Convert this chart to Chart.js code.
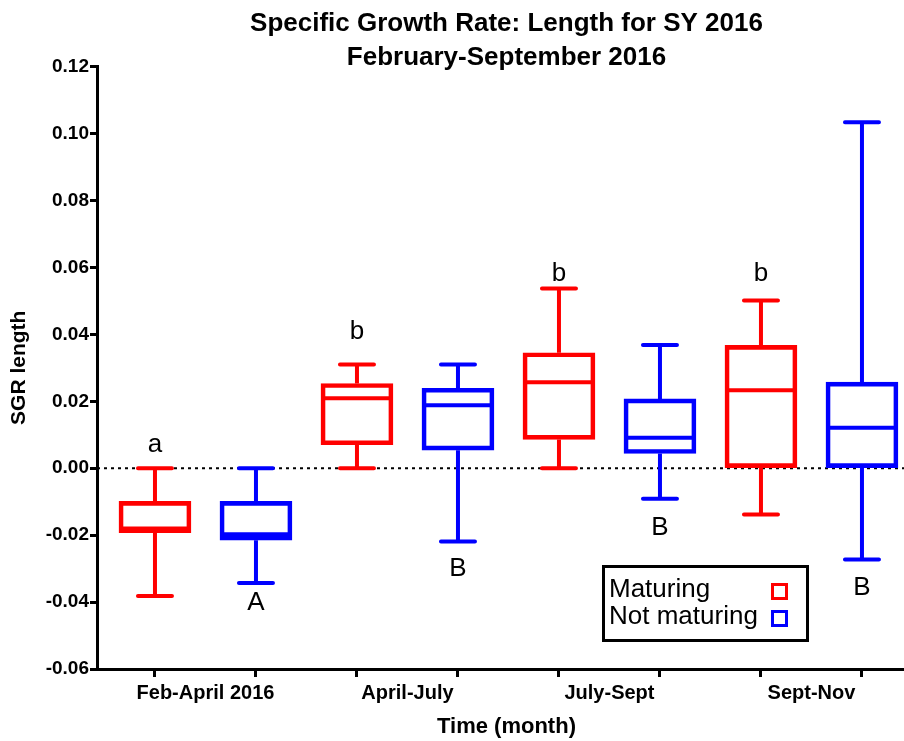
<!DOCTYPE html>
<html>
<head>
<meta charset="utf-8">
<title>SGR length</title>
<script src="https://cdn.jsdelivr.net/npm/chart.js@4"></script>
<style>
  html, body { margin: 0; padding: 0; background: #fff; overflow: hidden; }
  /* the original figure is cropped on the right, so the canvas runs a bit past the window */
  #sgrChart { display: block; }
</style>
</head>
<body>
<canvas id="sgrChart" width="916" height="741"></canvas>
<script>
// data
const periods = ['Feb-April 2016', 'April-July', 'July-Sept', 'Sept-Nov'];
const seriesNames = ['Maturing', 'Not maturing'];

const maturingMin    = [-0.0382, 0.0000, 0.0000, -0.0138];
const maturingQ1     = [-0.0193, 0.0070, 0.0086, 0.0000];
const maturingMedian = [-0.0180, 0.0209, 0.0257, 0.0233];
const maturingQ3     = [-0.0099, 0.0253, 0.0345, 0.0367];
const maturingMax    = [0.0000, 0.0310, 0.0537, 0.0501];

const notMaturingMin    = [-0.0343, -0.0219, -0.0091, -0.0273];
const notMaturingQ1     = [-0.0215, 0.0054, 0.0044, 0.0000];
const notMaturingMedian = [-0.0197, 0.0188, 0.0091, 0.0121];
const notMaturingQ3     = [-0.0099, 0.0239, 0.0207, 0.0257];
const notMaturingMax    = [0.0000, 0.0310, 0.0368, 0.1034];

// significance letters and the value they sit at
const maturingLetters = ['a', 'b', 'b', 'b'];
const maturingLetterAt = [0.0069, 0.0406, 0.0582, 0.0582];
const notMaturingLetters = ['A', 'B', 'B', 'B'];
const notMaturingLetterAt = [-0.0403, -0.0301, -0.0179, -0.0358];

const yTicks = [-0.06, -0.04, -0.02, 0.00, 0.02, 0.04, 0.06, 0.08, 0.10, 0.12];

const FONT = '"Liberation Sans", Arial, sans-serif';
const RED = '#ff0000';
const BLUE = '#0000ff';

// each box gets its own slot on the x axis: red at even, blue at odd
const boxSlots = [];
periods.forEach((p, i) => { boxSlots.push(2 * i, 2 * i + 1); });
const labelSlots = periods.map((p, i) => 2 * i + 0.5);

function makeDataset(name, color, offset, mins, q1s, meds, q3s, maxs, letters, letterAt) {
    return {
        label: name,
        data: periods.map((p, i) => ({ x: 2 * i + offset, y: [q1s[i], q3s[i]] })),
        stats: periods.map((p, i) => ({ min: mins[i], med: meds[i], max: maxs[i], letter: letters[i], letterAt: letterAt[i] })),
        borderColor: color,
        backgroundColor: 'rgba(0,0,0,0)',
        borderWidth: 4,
        borderSkipped: false,
        barThickness: 72,
        grouped: false
    };
}

const boxWhiskerPlugin = {
    id: 'boxWhisker',
    beforeDatasetsDraw(chart) {
        const { ctx, chartArea, scales } = chart;
        const y0 = scales.y.getPixelForValue(0);
        ctx.save();
        ctx.strokeStyle = '#000';
        ctx.lineWidth = 2;
        ctx.setLineDash([3, 4]);
        ctx.beginPath();
        ctx.moveTo(chartArea.left, y0);
        ctx.lineTo(chartArea.right, y0);
        ctx.stroke();
        ctx.restore();
    },
    afterDatasetsDraw(chart) {
        const { ctx, scales } = chart;
        const ys = scales.y;
        chart.data.datasets.forEach((ds, di) => {
            const meta = chart.getDatasetMeta(di);
            meta.data.forEach((bar, i) => {
                const st = ds.stats[i];
                const cx = bar.x;
                const half = bar.width / 2;
                const top = Math.min(bar.y, bar.base);
                const bottom = Math.max(bar.y, bar.base);
                const yMax = ys.getPixelForValue(st.max);
                const yMin = ys.getPixelForValue(st.min);
                const yMed = ys.getPixelForValue(st.med);
                ctx.save();
                ctx.strokeStyle = ds.borderColor;
                ctx.lineWidth = 4;
                // median
                ctx.beginPath();
                ctx.moveTo(cx - half + 2, yMed);
                ctx.lineTo(cx + half - 2, yMed);
                ctx.stroke();
                // whiskers
                ctx.beginPath();
                if (yMax < top) { ctx.moveTo(cx, top); ctx.lineTo(cx, yMax); }
                if (yMin > bottom) { ctx.moveTo(cx, bottom); ctx.lineTo(cx, yMin); }
                ctx.stroke();
                // caps
                ctx.lineCap = 'round';
                ctx.beginPath();
                ctx.moveTo(cx - 17, yMax); ctx.lineTo(cx + 17, yMax);
                ctx.moveTo(cx - 17, yMin); ctx.lineTo(cx + 17, yMin);
                ctx.stroke();
                // letter
                ctx.fillStyle = '#000';
                ctx.font = '26px ' + FONT;
                ctx.textAlign = 'center';
                ctx.textBaseline = 'middle';
                ctx.fillText(st.letter, cx, ys.getPixelForValue(st.letterAt));
                ctx.restore();
            });
        });
    },
    afterDraw(chart) {
        // legend box, markers on the right like the original
        const ctx = chart.ctx;
        const colors = [RED, BLUE];
        ctx.save();
        ctx.fillStyle = '#fff';
        ctx.fillRect(603, 566, 205, 75);
        ctx.strokeStyle = '#000';
        ctx.lineWidth = 3;
        ctx.strokeRect(603.5, 566.5, 204, 74);
        ctx.font = '26px ' + FONT;
        ctx.textBaseline = 'alphabetic';
        ctx.textAlign = 'left';
        seriesNames.forEach((name, i) => {
            ctx.fillStyle = '#000';
            ctx.fillText(name, 609, 597 + i * 27);
            ctx.strokeStyle = colors[i];
            ctx.strokeRect(772.5, 584.5 + i * 27, 14, 14);
        });
        ctx.restore();
    }
};

const ctx = document.getElementById('sgrChart').getContext('2d');
new Chart(ctx, {
    type: 'bar',
    data: {
        datasets: [
            makeDataset(seriesNames[0], RED, 0, maturingMin, maturingQ1, maturingMedian, maturingQ3, maturingMax, maturingLetters, maturingLetterAt),
            makeDataset(seriesNames[1], BLUE, 1, notMaturingMin, notMaturingQ1, notMaturingMedian, notMaturingQ3, notMaturingMax, notMaturingLetters, notMaturingLetterAt)
        ]
    },
    options: {
        responsive: false,
        animation: false,
        layout: { padding: 0 },
        plugins: {
            legend: { display: false },
            tooltip: { enabled: false },
            title: {
                display: true,
                fullSize: false,
                text: ['Specific Growth Rate: Length for SY 2016', 'February-September 2016'],
                color: '#000',
                font: { family: FONT, size: 26, weight: 'bold', lineHeight: 1.3 },
                padding: { top: 7, bottom: -8 }
            }
        },
        scales: {
            x: {
                type: 'linear',
                offset: false,
                min: -0.574,
                max: 7.535,
                afterBuildTicks: scale => {
                    scale.ticks = boxSlots.concat(labelSlots).sort((a, b) => a - b).map(v => ({ value: v }));
                },
                afterFit: scale => { scale.height = 72; },
                ticks: {
                    autoSkip: false,
                    maxRotation: 0,
                    padding: 4,
                    color: '#000',
                    font: { family: FONT, size: 20, weight: 'bold' },
                    callback: v => {
                        const k = labelSlots.indexOf(v);
                        return k >= 0 ? periods[k] : '';
                    }
                },
                grid: {
                    offset: false,
                    drawOnChartArea: false,
                    tickLength: 8,
                    tickWidth: 3,
                    tickColor: c => (c.tick && Number.isInteger(c.tick.value)) ? '#000' : 'rgba(0,0,0,0)'
                },
                border: { color: '#000', width: 3 },
                title: {
                    display: true,
                    text: 'Time (month)',
                    color: '#000',
                    font: { family: FONT, size: 22, weight: 'bold' },
                    padding: { top: 0, bottom: 1 }
                }
            },
            y: {
                min: -0.06,
                max: 0.12,
                afterBuildTicks: scale => { scale.ticks = yTicks.map(v => ({ value: v })); },
                afterFit: scale => { scale.width = 97; },
                ticks: {
                    padding: 1,
                    color: '#000',
                    font: { family: FONT, size: 19, weight: 'bold' },
                    callback: v => v.toFixed(2)
                },
                grid: {
                    drawOnChartArea: false,
                    tickLength: 7,
                    tickWidth: 3,
                    tickColor: '#000'
                },
                border: { color: '#000', width: 3 },
                title: {
                    display: true,
                    text: 'SGR length',
                    color: '#000',
                    font: { family: FONT, size: 21, weight: 'bold' },
                    padding: { top: 7, bottom: 0 }
                }
            }
        }
    },
    plugins: [boxWhiskerPlugin]
});
</script>
</body>
</html>
